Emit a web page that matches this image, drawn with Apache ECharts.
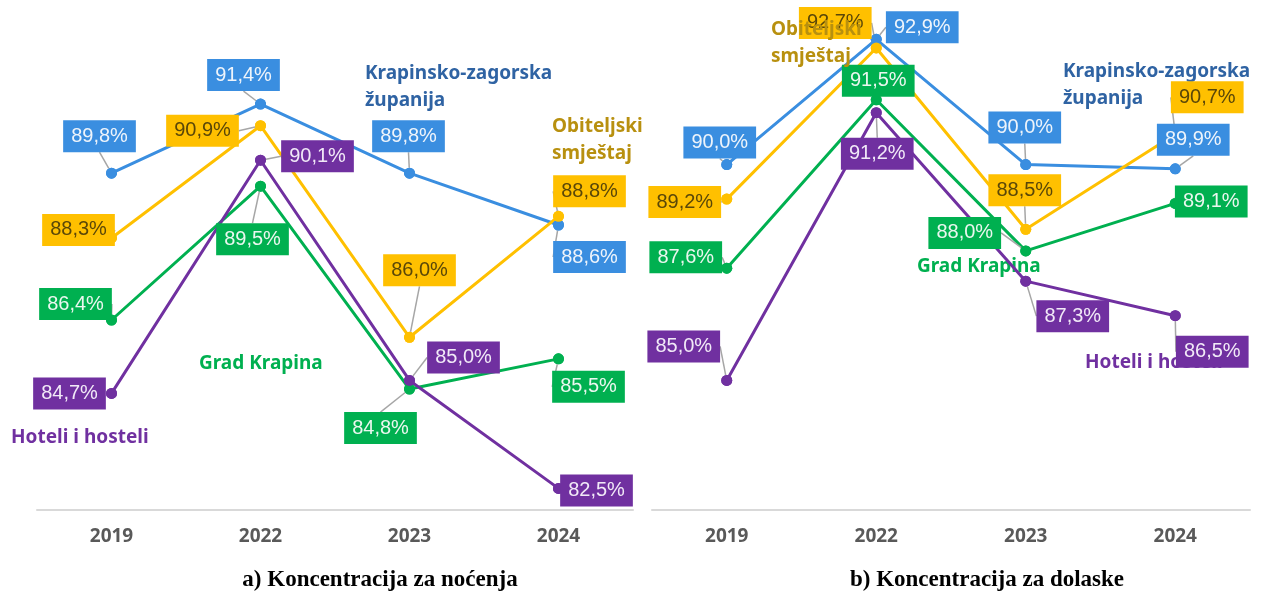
<!DOCTYPE html>
<html>
<head>
<meta charset="utf-8">
<script src="https://cdn.jsdelivr.net/npm/echarts@6/dist/echarts.min.js"></script>
<style>
html,body{margin:0;padding:0;background:#fff;}
#c{width:1262px;height:595px;}
</style>
</head>
<body>
<div id="c"></div>
<script>
// ---- data ----
const years = ['2019', '2022', '2023', '2024'];
const seriesNames = ['Krapinsko-zagorska županija', 'Obiteljski smještaj', 'Grad Krapina', 'Hoteli i hosteli'];
// a) Koncentracija za noćenja
const nocKZZ = [89.8, 91.4, 89.8, 88.6];
const nocObit = [88.3, 90.9, 86.0, 88.8];
const nocKrapina = [86.4, 89.5, 84.8, 85.5];
const nocHoteli = [84.7, 90.1, 85.0, 82.5];
// b) Koncentracija za dolaske
const dolKZZ = [90.0, 92.9, 90.0, 89.9];
const dolObit = [89.2, 92.7, 88.5, 90.7];
const dolKrapina = [87.6, 91.5, 88.0, 89.1];
const dolHoteli = [85.0, 91.2, 87.3, 86.5];

// ---- styles ----
const colors = ['#3A8EE0', '#FFC000', '#00B050', '#7030A0'];
const labelText = ['#EEF4FB', '#5A4708', '#EAF7EF', '#F1E9F7'];
const nameColors = ['#2F63A3', '#B8900F', '#00B050', '#7030A0'];
// label box offsets (px) from point, per series per point
const offA = [
  [[-12,-37],[-17,-29],[-1,-37],[31,32]],
  [[-33,-8],[-58,5],[10,-67],[31,-25]],
  [[-36,-16],[-8,53],[-29,39],[30,28]],
  [[-42,0],[57,-4],[54,-23],[38,2]]
];
const offB = [
  [[-7,-22],[46,-12],[-1,-37],[18,-29]],
  [[-42,3],[-41,-25],[-1,-39],[32,-37]],
  [[-41,-11],[2,-19],[-61,-18],[36,-2]],
  [[-43,-34],[1,41],[47,35],[37,36]]
];

const dataA = [nocKZZ, nocObit, nocKrapina, nocHoteli];
const dataB = [dolKZZ, dolObit, dolKrapina, dolHoteli];

function fmt(v) { return v.toFixed(1).replace('.', ',') + '%'; }

function makeSeries(datasets, offs, axisIdx) {
  const out = [];
  datasets.forEach((d, k) => {
    out.push({
      type: 'line', name: seriesNames[k], xAxisIndex: axisIdx, yAxisIndex: axisIdx,
      data: d, z: 2, symbol: 'circle', symbolSize: 11, showSymbol: true,
      lineStyle: { color: colors[k], width: 3 },
      itemStyle: { color: colors[k] },
      label: { show: false }, silent: true
    });
  });
  datasets.forEach((d, k) => {
    out.push({
      type: 'line', name: seriesNames[k] + ' ', xAxisIndex: axisIdx, yAxisIndex: axisIdx,
      data: d, z: 3, symbol: 'circle', symbolSize: 11, showSymbol: true,
      lineStyle: { width: 0, opacity: 0 },
      itemStyle: { color: colors[k] },
      label: {
        show: true, position: 'inside',
        formatter: p => fmt(p.value),
        backgroundColor: colors[k], color: labelText[k],
        fontFamily: 'Liberation Sans', fontSize: 20, lineHeight: 22,
        padding: [5, 8, 5, 8]
      },
      labelLine: { show: true, lineStyle: { color: '#A6A6A6', width: 1.5 } },
      labelLayout: p => ({ dx: offs[k][p.dataIndex][0], dy: offs[k][p.dataIndex][1] }),
      silent: true
    });
  });
  return out;
}

function xAxisCfg(i) {
  return {
    type: 'category', gridIndex: i, data: years, boundaryGap: true,
    axisLine: { show: true, lineStyle: { color: '#D9D9D9', width: 2 } },
    axisTick: { show: false },
    axisLabel: { color: '#595959', fontFamily: 'Noto Sans', fontWeight: 'bold', fontSize: 19, margin: 17 },
    splitLine: { show: false }
  };
}
function yAxisCfg(i) {
  return { type: 'value', gridIndex: i, min: 82, max: 93, show: false, splitLine: { show: false } };
}

function nameText(txt, x, y, k, z) {
  return {
    type: 'text', x: x, y: y, z: z,
    style: { text: txt, fill: nameColors[k], font: 'bold 19px "Noto Sans"', lineHeight: 27, verticalAlign: 'top', align: 'left' }
  };
}

const chart = echarts.init(document.getElementById('c'));
chart.setOption({
  animation: false,
  backgroundColor: '#ffffff',
  grid: [
    { left: 37, width: 596, top: 35, height: 475 },
    { left: 652, width: 598, top: 35, height: 475 }
  ],
  xAxis: [xAxisCfg(0), xAxisCfg(1)],
  yAxis: [yAxisCfg(0), yAxisCfg(1)],
  series: makeSeries(dataA, offA, 0).concat(makeSeries(dataB, offB, 1)),
  graphic: [
    nameText('Krapinsko-zagorska\nžupanija', 365, 60, 0, 1),
    nameText('Obiteljski\nsmještaj', 552, 113, 1, 1),
    nameText('Grad Krapina', 199, 350, 2, 1),
    nameText('Hoteli i hosteli', 11, 424, 3, 1),
    nameText('Obiteljski\nsmještaj', 771, 16, 1, 10),
    nameText('Krapinsko-zagorska\nžupanija', 1063, 58, 0, 1),
    nameText('Grad Krapina', 917, 253, 2, 1),
    nameText('Hoteli i hosteli', 1085, 349, 3, 0),
    {
      type: 'text', x: 380, y: 580, z: 5,
      style: { text: 'a) Koncentracija za noćenja', fill: '#000', font: 'bold 23px "Liberation Serif"', align: 'center', verticalAlign: 'middle' }
    },
    {
      type: 'text', x: 987, y: 580, z: 5,
      style: { text: 'b) Koncentracija za dolaske', fill: '#000', font: 'bold 23px "Liberation Serif"', align: 'center', verticalAlign: 'middle' }
    }
  ]
});
</script>
</body>
</html>
